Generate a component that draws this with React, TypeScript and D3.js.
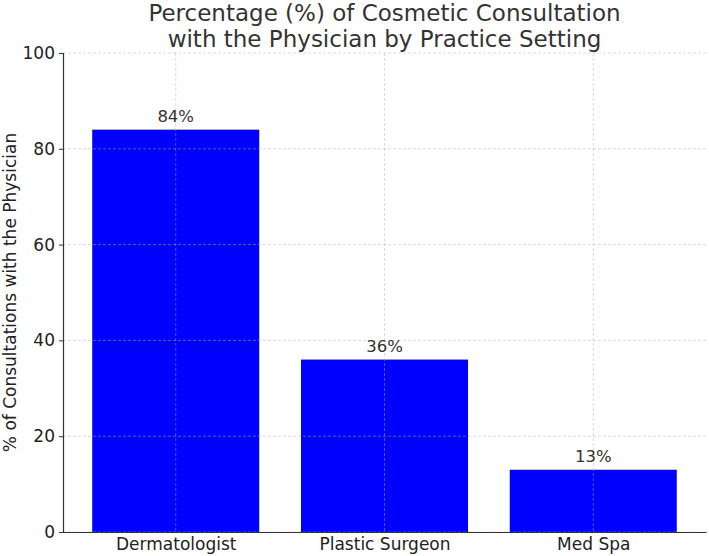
import * as d3 from 'd3';
import { useEffect, useRef } from 'react';

const categories = ['Dermatologist', 'Plastic Surgeon', 'Med Spa'];
const values = [84, 36, 13];
const yTicks = [0, 20, 40, 60, 80, 100];
const titleLines = ['Percentage (%) of Cosmetic Consultation', 'with the Physician by Practice Setting'];
const yLabel = '% of Consultations with the Physician';

const App = () => {
  const ref = useRef<SVGSVGElement>(null);

  useEffect(() => {
    const svg = d3.select(ref.current);
    svg.selectAll('*').remove();

    const width = 709;
    const height = 556;
    const margin = { top: 53, right: 3, bottom: 24, left: 63 };
    const font = 'DejaVu Sans, sans-serif';

    // matplotlib-like x range: bars of width 0.8 plus 5% margins
    const x = d3.scaleLinear().domain([-0.54, categories.length - 1 + 0.54]).range([margin.left, width - margin.right]);
    const y = d3.scaleLinear().domain([0, 100]).range([height - margin.bottom, margin.top]);
    const barW = x(0.8) - x(0);

    svg.attr('width', width).attr('height', height);
    svg.append('rect').attr('width', width).attr('height', height).attr('fill', 'white');

    // Bars
    svg.append('g')
      .selectAll('rect')
      .data(values)
      .enter()
      .append('rect')
      .attr('x', (d, i) => x(i) - barW / 2)
      .attr('y', d => y(d))
      .attr('width', barW)
      .attr('height', d => y(0) - y(d))
      .attr('fill', '#0000ff');

    // Grid (drawn on top like the original)
    const grid = svg.append('g')
      .attr('stroke', '#b0b0b0')
      .attr('stroke-opacity', 0.6)
      .attr('stroke-width', 0.8)
      .attr('stroke-dasharray', '3,2');
    yTicks.forEach(t => {
      grid.append('line')
        .attr('x1', margin.left).attr('x2', width - margin.right)
        .attr('y1', y(t)).attr('y2', y(t));
    });
    categories.forEach((c, i) => {
      grid.append('line')
        .attr('x1', x(i)).attr('x2', x(i))
        .attr('y1', margin.top).attr('y2', height - margin.bottom);
    });

    // Value labels
    svg.append('g')
      .selectAll('text')
      .data(values)
      .enter()
      .append('text')
      .attr('x', (d, i) => x(i))
      .attr('y', d => y(d) - 8)
      .attr('text-anchor', 'middle')
      .style('font-family', font)
      .style('font-size', '16.5px')
      .attr('fill', '#333')
      .text(d => `${d}%`);

    // Y axis
    const yAxis = svg.append('g')
      .attr('transform', `translate(${margin.left},0)`)
      .call(d3.axisLeft(y).tickValues(yTicks).tickSize(4).tickPadding(4));
    yAxis.select('.domain').attr('stroke', '#333').attr('stroke-width', 1.2);
    yAxis.selectAll('.tick line').attr('stroke', '#333');
    yAxis.selectAll('.tick text').style('font-family', font).style('font-size', '17px').attr('fill', '#222');

    // X axis
    const xAxis = svg.append('g')
      .attr('transform', `translate(0,${height - margin.bottom})`)
      .call(d3.axisBottom(x).tickValues(d3.range(categories.length)).tickFormat((d: any) => categories[d]).tickSize(0).tickPadding(6).tickSizeOuter(0));
    xAxis.select('.domain').attr('stroke', '#333').attr('stroke-width', 1.2);
    xAxis.selectAll('.tick text').style('font-family', font).style('font-size', '17px').attr('fill', '#222');

    // Y label
    svg.append('text')
      .attr('transform', `translate(16,${(margin.top + height - margin.bottom) / 2}) rotate(-90)`)
      .attr('text-anchor', 'middle')
      .style('font-family', font)
      .style('font-size', '17px')
      .attr('fill', '#222')
      .text(yLabel);

    // Title
    const cx = (margin.left + width - margin.right) / 2;
    titleLines.forEach((line, i) => {
      svg.append('text')
        .attr('x', cx)
        .attr('y', 21 + i * 26)
        .attr('text-anchor', 'middle')
        .style('font-family', font)
        .style('font-size', '23px')
        .attr('fill', '#333')
        .text(line);
    });
  }, []);

  return <svg ref={ref} style={{ position: 'absolute', left: 0, top: 0 }}></svg>;
};

export default App;
